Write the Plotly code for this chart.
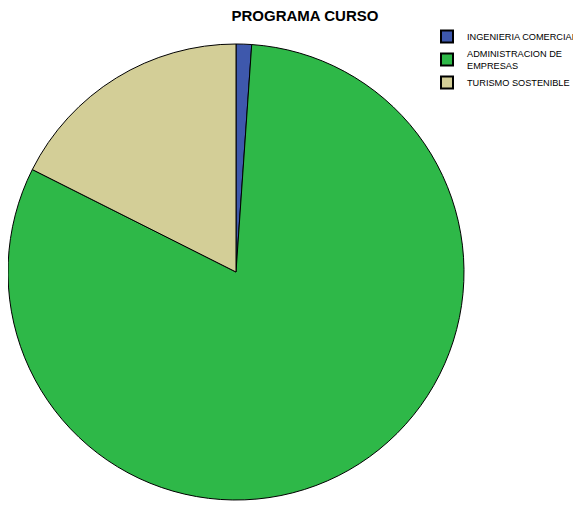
import plotly.graph_objects as go

categories = ["INGENIERIA COMERCIAL", "ADMINISTRACION DE<br>EMPRESAS", "TURISMO SOSTENIBLE"]
values = [1, 74, 16]
colors = ["#3E58AC", "#2EB848", "#D3CE97"]

W, H = 573, 508

fig = go.Figure(go.Pie(
    labels=categories,
    values=values,
    sort=False,
    direction="clockwise",
    rotation=0,
    marker=dict(colors=colors, line=dict(color="#000000", width=1)),
    textinfo="none",
    hoverinfo="label+percent",
    domain=dict(x=[0.0, 456 / W], y=[16 / H, 472 / H]),
))

fig.update_layout(
    width=W, height=H,
    margin=dict(l=0, r=0, t=0, b=0, autoexpand=False),
    paper_bgcolor="white", plot_bgcolor="white",
    font=dict(family="Liberation Sans, Arial, sans-serif", color="#000000"),
    title=dict(text="<b>PROGRAMA CURSO</b>", x=297 / W, xanchor="center",
               y=1 - 8 / H, yanchor="middle", font=dict(size=15)),
    legend=dict(x=419 / W, xanchor="left", y=1 - 14 / H, yanchor="top",
                font=dict(size=9.2), itemsizing="constant", tracegroupgap=0,
                bgcolor="rgba(0,0,0,0)"),
)

fig.write_html("out.html")
